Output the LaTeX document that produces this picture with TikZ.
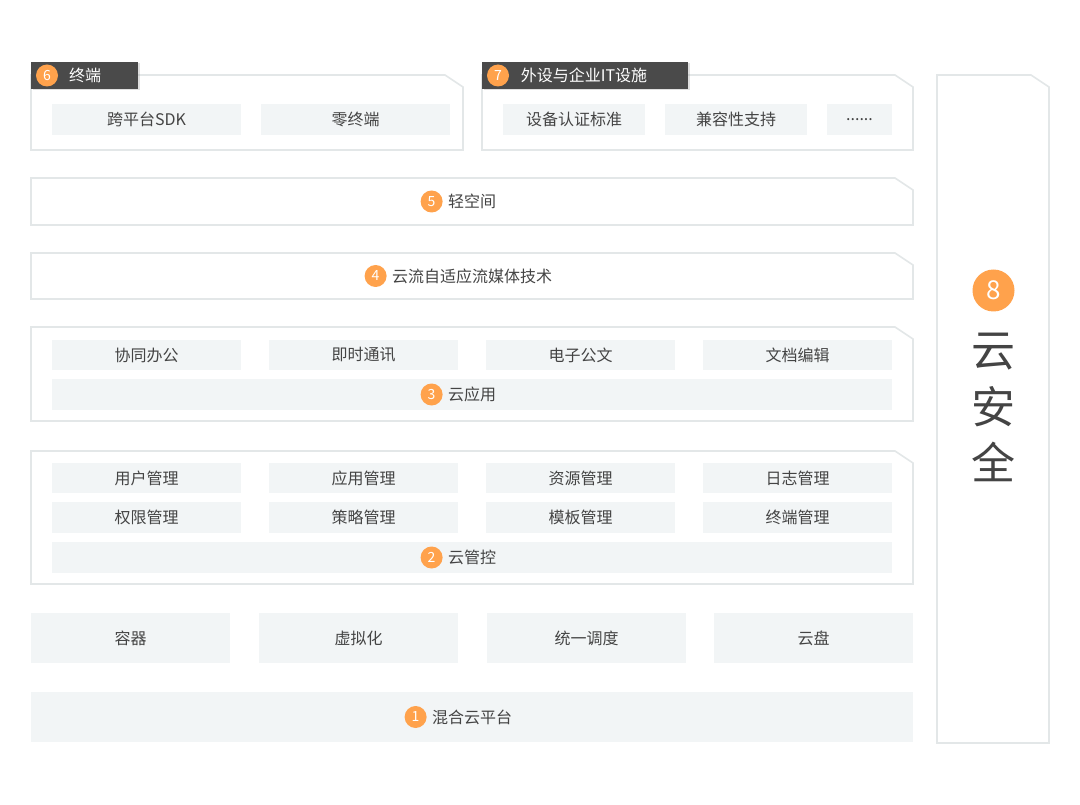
\documentclass[tikz,border=0pt]{standalone}
\usepackage{fontspec}
\setmainfont{Noto Sans CJK SC}
\usetikzlibrary{shadows,positioning}
\definecolor{boxfill}{HTML}{F2F5F6}
\definecolor{edge}{HTML}{E3E7E8}
\definecolor{txt}{HTML}{444444}
\definecolor{orng}{HTML}{FFA24C}
\definecolor{tabfill}{HTML}{4A4A4A}
\newcommand{\panelshape}[4]{%
  \draw[panelline] (#1,#2) -- ({#3-18},#2) -- (#3,{#2+12}) -- (#3,#4) -- (#1,#4) -- cycle;}
\begin{document}
\begin{tikzpicture}[x=1pt,y=-1pt,
  panelline/.style={draw=edge, line width=1.6pt, fill=white},
  box/.style={fill=boxfill, draw=none, inner sep=0pt, text=txt, font=\fontsize{16}{16}\selectfont},
  lbl/.style={inner sep=0pt, text=txt, font=\fontsize{16}{16}\selectfont},
  num/.style={circle, fill=orng, text=white, minimum size=22pt, inner sep=0pt, font=\fontsize{14}{14}\selectfont},
  tab/.style={fill=tabfill, draw=none, drop shadow={shadow xshift=1.5pt, shadow yshift=-1.5pt, opacity=0.25}},
  tablbl/.style={inner sep=0pt, text=white, font=\fontsize{16}{16}\selectfont},
  bigtxt/.style={inner sep=0pt, text=txt, font=\fontsize{44}{44}\selectfont}
]
\useasboundingbox[fill=white] (0,0) rectangle (1080,805);

% ---------- panel 6 ----------
\panelshape{31}{75}{463}{150}
\node[box, minimum width=189pt, minimum height=31pt] (sdk) at (146.5,119.5) {跨平台SDK};
\node[box, minimum width=189pt, minimum height=31pt] (zero) at (355.5,119.5) {零终端};
\path[tab] (31,62) rectangle (138,89);
\node[num] (n6) at (47,75.5) {6};
\node[tablbl] (t6) at (85,75.5) {终端};

% ---------- panel 7 ----------
\panelshape{482}{75}{913}{150}
\node[box, minimum width=142pt, minimum height=31pt] (dev) at (574,119.5) {设备认证标准};
\node[box, minimum width=142pt, minimum height=31pt] (compat) at (736,119.5) {兼容性支持};
\node[box, minimum width=65pt, minimum height=31pt] (more) at (859.5,119.5) {......};
\path[tab] (482,62) rectangle (688,89);
\node[num] (n7) at (498,75.5) {7};
\node[tablbl] (t7) at (584,75.5) {外设与企业IT设施};

% ---------- panel 5 ----------
\panelshape{31}{178}{913}{225}
\node[lbl] (t5) at (472,201.5) {轻空间};
\node[num, left=5pt of t5] (n5) {5};

% ---------- panel 4 ----------
\panelshape{31}{253}{913}{299}
\node[lbl] (t4) at (472,276) {云流自适应流媒体技术};
\node[num, left=5pt of t4] (n4) {4};

% ---------- panel 3 ----------
\panelshape{31}{327}{913}{421}
\node[box, minimum width=189pt, minimum height=30pt] (a1) at (146.5,355) {协同办公};
\node[box, minimum width=189pt, minimum height=30pt] (a2) at (363.5,355) {即时通讯};
\node[box, minimum width=189pt, minimum height=30pt] (a3) at (580.5,355) {电子公文};
\node[box, minimum width=189pt, minimum height=30pt] (a4) at (797.5,355) {文档编辑};
\node[box, minimum width=840pt, minimum height=31pt] (b3) at (472,394.5) {};
\node[lbl] (t3) at (b3.center) {云应用};
\node[num, left=5pt of t3] (n3) {3};

% ---------- panel 2 ----------
\panelshape{31}{451}{913}{584}
\node[box, minimum width=189pt, minimum height=30pt] (m1) at (146.5,478) {用户管理};
\node[box, minimum width=189pt, minimum height=30pt] (m2) at (363.5,478) {应用管理};
\node[box, minimum width=189pt, minimum height=30pt] (m3) at (580.5,478) {资源管理};
\node[box, minimum width=189pt, minimum height=30pt] (m4) at (797.5,478) {日志管理};
\node[box, minimum width=189pt, minimum height=31pt] (m5) at (146.5,517.5) {权限管理};
\node[box, minimum width=189pt, minimum height=31pt] (m6) at (363.5,517.5) {策略管理};
\node[box, minimum width=189pt, minimum height=31pt] (m7) at (580.5,517.5) {模板管理};
\node[box, minimum width=189pt, minimum height=31pt] (m8) at (797.5,517.5) {终端管理};
\node[box, minimum width=840pt, minimum height=31pt] (b2) at (472,557.5) {};
\node[lbl] (t2) at (b2.center) {云管控};
\node[num, left=5pt of t2] (n2) {2};

% ---------- bottom row ----------
\node[box, minimum width=199pt, minimum height=50pt] (r1) at (130.5,638) {容器};
\node[box, minimum width=199pt, minimum height=50pt] (r2) at (358.5,638) {虚拟化};
\node[box, minimum width=199pt, minimum height=50pt] (r3) at (586.5,638) {统一调度};
\node[box, minimum width=199pt, minimum height=50pt] (r4) at (813.5,638) {云盘};

% ---------- panel 1 ----------
\node[box, minimum width=882pt, minimum height=50pt] (b1) at (472,717) {};
\node[lbl] (t1) at (b1.center) {混合云平台};
\node[num, left=5pt of t1] (n1) {1};

% ---------- panel 8 ----------
\panelshape{937}{75}{1049}{743}
\node[num, minimum size=42pt, font=\fontsize{26}{26}\selectfont] (n8) at (993.5,290.5) {8};
\node[bigtxt] (s1) at (993.5,352) {云};
\node[bigtxt] (s2) at (993.5,407) {安};
\node[bigtxt] (s3) at (993.5,462) {全};
\end{tikzpicture}
\end{document}
